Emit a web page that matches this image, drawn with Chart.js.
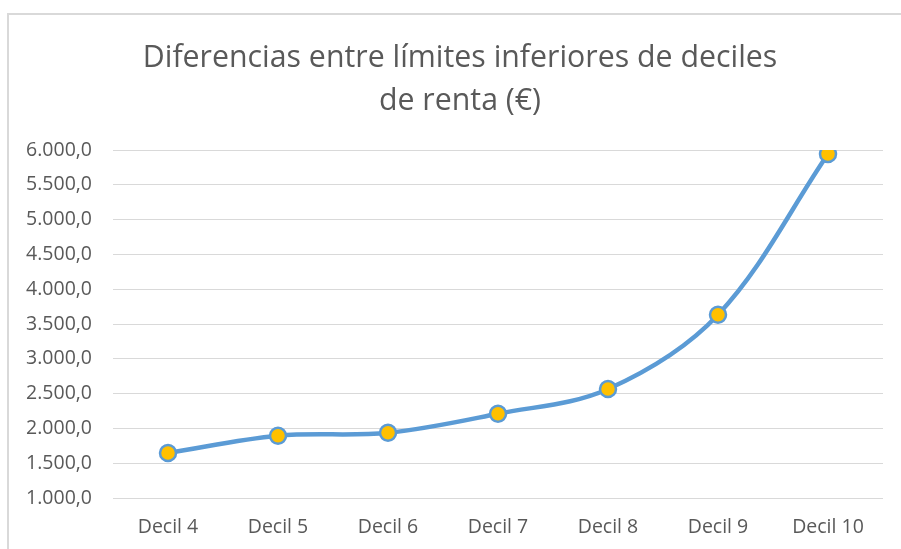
<!DOCTYPE html>
<html lang="es">

<head>
  <meta charset="UTF-8" />
  <title>Diferencias entre límites inferiores de deciles de renta</title>
  <style>
    * {
      box-sizing: border-box;
      margin: 0;
      padding: 0;
    }

    html,
    body {
      width: 901px;
      height: 549px;
      background: #fff;
      overflow: hidden;
    }

    #frame {
      position: absolute;
      left: 7px;
      top: 13px;
      width: 900px;
      height: 540px;
      border-left: 2px solid #d9d9d9;
      border-top: 2px solid #d9d9d9;
    }

    #chart-container {
      position: absolute;
      left: 0;
      top: 0;
      width: 901px;
      height: 549px;
    }
  </style>
  <script src="https://cdn.jsdelivr.net/npm/chart.js@4/dist/chart.umd.min.js"></script>
</head>

<body>
  <div id="frame"></div>
  <div id="chart-container">
    <canvas id="decilChart"></canvas>
  </div>

  <script>
    // datos
    const deciles = ['Decil 4', 'Decil 5', 'Decil 6', 'Decil 7', 'Decil 8', 'Decil 9', 'Decil 10'];
    const diferencias = [1647, 1895, 1938, 2211, 2566, 3634, 5943];
    const yMin = 1000;
    const yMax = 6000;
    const yStep = 500;

    const FONT = '"Open Sans", sans-serif';
    const GREY = '#595959';

    // 6000 -> "6.000,0"
    function formatEuro(v) {
      const parts = v.toFixed(1).split('.');
      const ent = parts[0].replace(/\B(?=(\d{3})+(?!\d))/g, '.');
      return ent + ',' + parts[1];
    }

    // el título del original está centrado un poco a la derecha
    const shiftTitle = {
      id: 'shiftTitle',
      afterLayout(chart) {
        const t = chart.titleBlock;
        if (t) { t.left += 14; t.right += 14; }
      }
    };

    const ctx = document.getElementById('decilChart').getContext('2d');
    const chart = new Chart(ctx, {
      type: 'line',
      data: {
        labels: deciles,
        datasets: [{
          data: diferencias,
          borderColor: '#5b9bd5',
          borderWidth: 4.5,
          tension: 0.35,
          pointRadius: 8,
          pointBorderWidth: 2.5,
          pointBackgroundColor: '#ffc000',
          pointBorderColor: '#5b9bd5'
        }]
      },
      options: {
        animation: false,
        responsive: true,
        maintainAspectRatio: false,
        layout: { padding: { left: 9, right: 18, top: 0, bottom: 0 } },
        scales: {
          x: {
            offset: true,
            grid: { display: false, drawTicks: false },
            border: { display: false },
            ticks: { color: GREY, font: { family: FONT, size: 19.5 }, padding: 18 },
            afterFit: s => { s.height = 51; }
          },
          y: {
            min: yMin,
            max: yMax,
            grid: { color: '#d9d9d9', lineWidth: 1, drawTicks: false },
            border: { display: false },
            ticks: {
              stepSize: yStep,
              color: GREY,
              padding: 21,
              font: { family: FONT, size: 19.5 },
              callback: v => formatEuro(v)
            },
            afterFit: s => { s.width = 104; }
          }
        },
        plugins: {
          legend: { display: false },
          tooltip: { enabled: false },
          title: {
            display: true,
            text: ['Diferencias entre límites inferiores de deciles', 'de renta (€)'],
            color: GREY,
            font: { family: FONT, size: 30.3, weight: 'normal', lineHeight: 1.42 },
            padding: { top: 36.5, bottom: 27.5 }
          }
        }
      },
      plugins: [shiftTitle]
    });
  </script>
</body>

</html>
